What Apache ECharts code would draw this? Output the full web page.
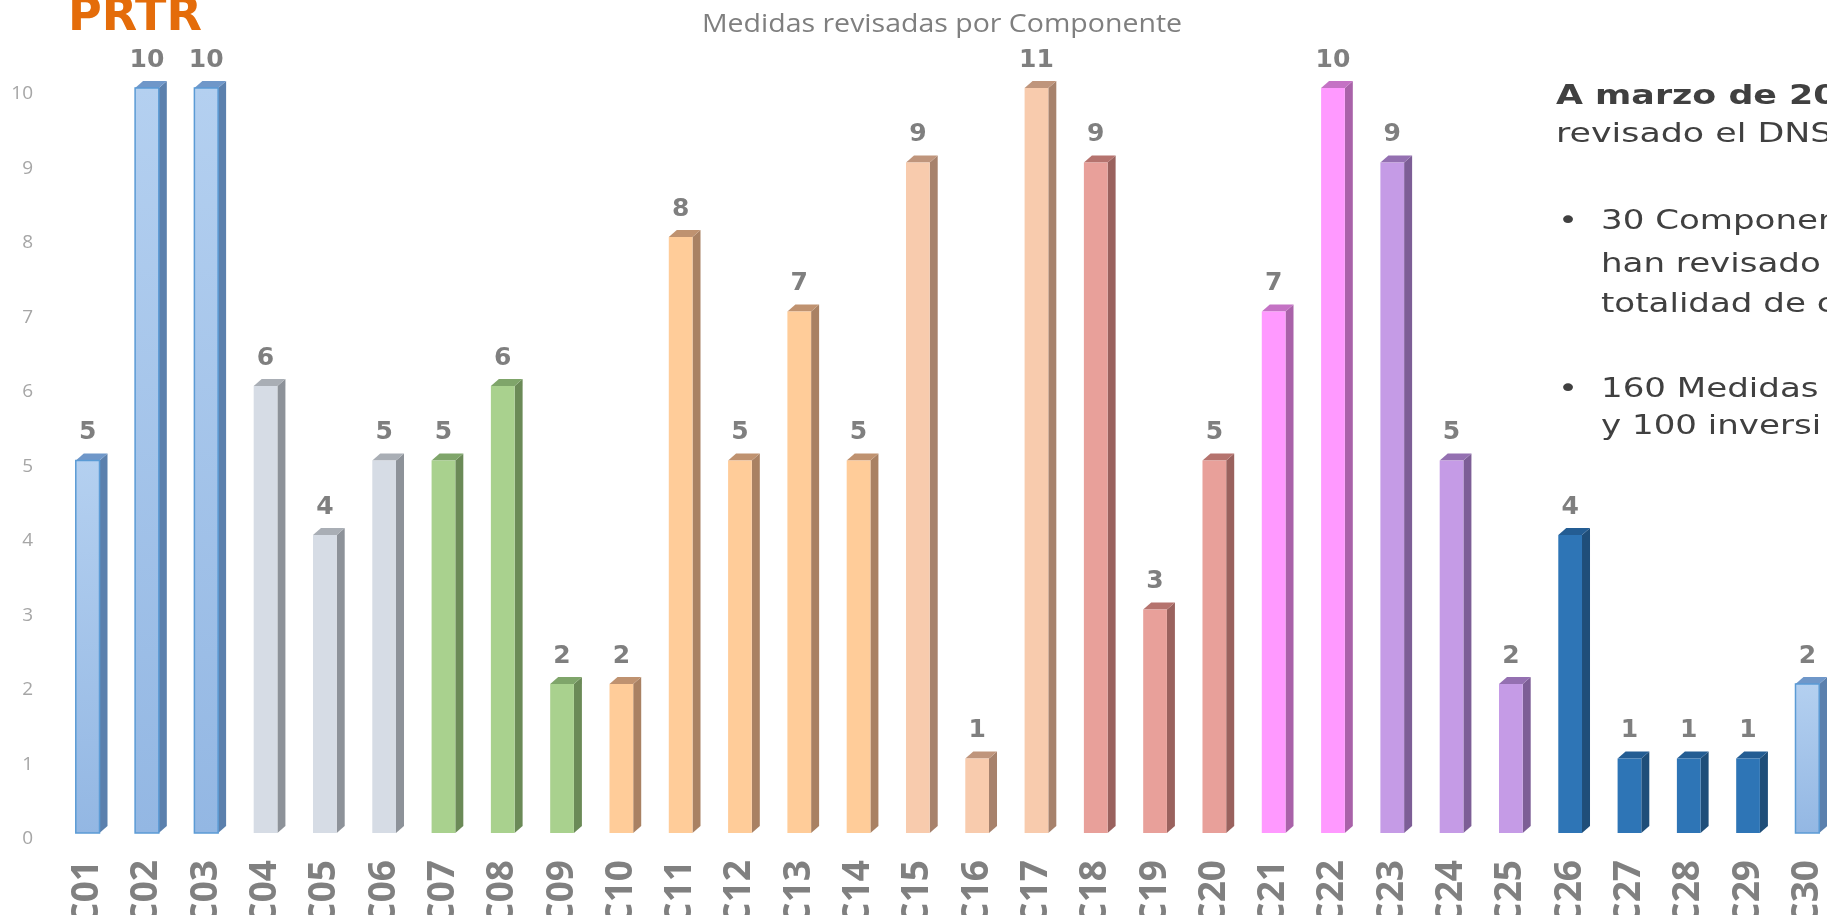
<!DOCTYPE html>
<html>
<head>
<meta charset="utf-8">
<title>Medidas revisadas por Componente</title>
<script src="https://cdn.jsdelivr.net/npm/echarts@6/dist/echarts.min.js"></script>
<style>
html, body { margin: 0; padding: 0; background: #fff; }
#main { width: 1827px; height: 915px; }
</style>
</head>
<body>
<div id="main"></div>
<script>
var componentes = ['C01', 'C02', 'C03', 'C04', 'C05', 'C06', 'C07', 'C08', 'C09', 'C10',
                   'C11', 'C12', 'C13', 'C14', 'C15', 'C16', 'C17', 'C18', 'C19', 'C20',
                   'C21', 'C22', 'C23', 'C24', 'C25', 'C26', 'C27', 'C28', 'C29', 'C30'];
var medidas = [5, 10, 10, 6, 4, 5, 5, 6, 2, 2,
               8, 5, 7, 5, 9, 1, 11, 9, 3, 5,
               7, 10, 9, 5, 2, 4, 1, 1, 1, 2];
var yMax = 10;

// grupo de color de cada componente
var grupoDe = [0, 0, 0, 1, 1, 1, 2, 2, 2, 3, 3, 3, 3, 3, 4, 4, 4, 5, 5, 5, 6, 6, 7, 7, 7, 8, 8, 8, 8, 0];
var colorFrente = ['#a6c6ec', '#d6dce5', '#a9d18e', '#ffcc99', '#f8cbad', '#e8a09a', '#ff99ff', '#c59be6', '#2e75b6'];
var colorLado   = ['#5b80ad', '#8d9299', '#6b8a57', '#a98163', '#a7826c', '#9a625e', '#a962a9', '#7d5e96', '#1f4e79'];
var colorTapa   = ['#6f97c9', '#a9aeb5', '#7fa56a', '#bf9270', '#bf957c', '#b5736e', '#c472c4', '#9470b1', '#245d93'];

var myChart = echarts.init(document.getElementById('main'));

// columna "3D": frente, lateral y tapa, todo a partir de las coordenadas del eje
function dibujarColumna(params, api) {
  var i = api.value(0);
  var real = api.value(1);
  var v = Math.min(real, yMax);
  var base = api.coord([i, 0]);
  var top = api.coord([i, v]);
  var w = api.size([1, 0])[0] * 0.4;
  var dx = 8, dy = 7;
  var g = grupoDe[i];
  var x0 = base[0] - w / 2, x1 = base[0] + w / 2;
  var yT = top[1], yB = base[1];
  var frenteStyle = { fill: colorFrente[g] };
  if (g === 0) {
    frenteStyle = {
      fill: new echarts.graphic.LinearGradient(0, 0, 0, 1, [
        { offset: 0, color: '#b4d0f0' },
        { offset: 1, color: '#93b7e3' }
      ]),
      stroke: '#5b9bd5',
      lineWidth: 1.5
    };
  }
  return {
    type: 'group',
    children: [
      { type: 'polygon', shape: { points: [[x1, yT], [x1 + dx, yT - dy], [x1 + dx, yB - dy], [x1, yB]] }, style: { fill: colorLado[g] } },
      { type: 'polygon', shape: { points: [[x0, yT], [x0 + dx, yT - dy], [x1 + dx, yT - dy], [x1, yT]] }, style: { fill: colorTapa[g] } },
      { type: 'rect', shape: { x: x0, y: yT, width: w, height: yB - yT }, style: frenteStyle },
      {
        type: 'text', x: base[0], y: yT - 28,
        style: { text: String(real), align: 'center', verticalAlign: 'middle', font: 'bold 25px "DejaVu Sans"', fill: '#7f7f7f' }
      }
    ]
  };
}

var option = {
  animation: false,
  grid: { left: 58, right: -10, top: 88, bottom: 82, outerBoundsMode: 'none' },
  xAxis: {
    type: 'category',
    data: componentes,
    axisLine: { show: false },
    axisTick: { show: false },
    axisLabel: {
      interval: 0,
      rotate: 90,
      margin: 27,
      fontSize: 37,
      fontWeight: 'bold',
      fontFamily: 'Open Sans',
      color: '#808080'
    }
  },
  yAxis: {
    type: 'value',
    min: 0,
    max: yMax,
    interval: 1,
    axisLine: { show: false },
    axisTick: { show: false },
    splitLine: { show: false },
    axisLabel: {
      fontSize: 19,
      fontFamily: 'Open Sans',
      color: '#a6a6a6',
      margin: 25,
      verticalAlign: 'top',
      lineHeight: 12
    }
  },
  series: [
    {
      name: 'Medidas',
      type: 'custom',
      renderItem: dibujarColumna,
      encode: { x: 0, y: 1 },
      data: medidas.map(function (v, i) { return [i, v]; })
    }
  ],
  graphic: [
    { type: 'text', x: 68, y: 18, style: { text: 'PRTR', font: 'bold 46px "DejaVu Sans"', fill: '#e46c0a', verticalAlign: 'middle' } },
    { type: 'text', x: 942, y: 25, scaleX: 1.14, style: { text: 'Medidas revisadas por Componente', font: '25px "Open Sans"', fill: '#7f7f7f', align: 'center', verticalAlign: 'middle' } },
    { type: 'text', x: 1556, y: 97, scaleX: 1.29, style: { text: 'A marzo de 20', font: 'bold 27px "DejaVu Sans"', fill: '#404040', verticalAlign: 'middle' } },
    { type: 'text', x: 1556, y: 135, scaleX: 1.29, style: { text: 'revisado el DNS', font: '27px "DejaVu Sans"', fill: '#404040', verticalAlign: 'middle' } },
    { type: 'text', x: 1558, y: 222, scaleX: 1.31, style: { text: '•', font: '26px "DejaVu Sans"', fill: '#404040', verticalAlign: 'middle' } },
    { type: 'text', x: 1601, y: 222, scaleX: 1.31, style: { text: '30 Componen', font: '26px "DejaVu Sans"', fill: '#404040', verticalAlign: 'middle' } },
    { type: 'text', x: 1601, y: 265, scaleX: 1.31, style: { text: 'han revisado', font: '26px "DejaVu Sans"', fill: '#404040', verticalAlign: 'middle' } },
    { type: 'text', x: 1601, y: 305, scaleX: 1.31, style: { text: 'totalidad de c', font: '26px "DejaVu Sans"', fill: '#404040', verticalAlign: 'middle' } },
    { type: 'text', x: 1558, y: 390, scaleX: 1.31, style: { text: '•', font: '26px "DejaVu Sans"', fill: '#404040', verticalAlign: 'middle' } },
    { type: 'text', x: 1601, y: 390, scaleX: 1.31, style: { text: '160 Medidas', font: '26px "DejaVu Sans"', fill: '#404040', verticalAlign: 'middle' } },
    { type: 'text', x: 1601, y: 427, scaleX: 1.31, style: { text: 'y 100 inversi', font: '26px "DejaVu Sans"', fill: '#404040', verticalAlign: 'middle' } }
  ]
};

myChart.setOption(option);
window.addEventListener('resize', function () {
  myChart.resize();
});
</script>
</body>
</html>
